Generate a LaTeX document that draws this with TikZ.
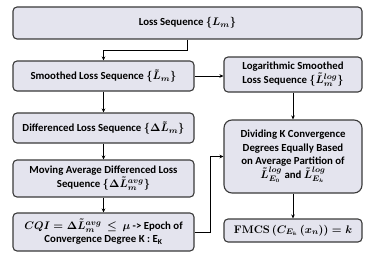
\documentclass[tikz,border=0pt]{standalone}
\usepackage[no-math]{fontspec}
\setmainfont{Carlito}
\usepackage{amsmath}
\usetikzlibrary{arrows.meta}
\definecolor{boxfill}{HTML}{E4E4EE}
\definecolor{boxline}{HTML}{3A3A3A}
\tikzset{
  stepbox/.style={draw=boxline, line width=1.1pt, fill=boxfill, rounded corners=4pt,
    align=center, inner sep=1pt, font=\fontsize{10.8}{13.5}\selectfont\bfseries\boldmath},
  arr/.style={draw=black, line width=0.9pt, -{Stealth[length=4pt,width=3.6pt]}}
}
\begin{document}
\begin{tikzpicture}[x=1pt,y=-1pt]
\useasboundingbox (0,0) rectangle (374,262);
\node[stepbox, minimum width=349pt, minimum height=32pt] (top) at (187.5,23) {Loss Sequence $\{L_m\}$};
\node[stepbox, minimum width=181pt, minimum height=30pt] (smooth) at (103.5,76) {Smoothed Loss Sequence $\{\tilde{L}_m\}$};
\node[stepbox, minimum width=138pt, minimum height=35pt] (log) at (293,74.5) {Logarithmic Smoothed\\Loss Sequence $\{\tilde{L}_m^{log}\}$};
\node[stepbox, minimum width=181pt, minimum height=30pt] (diff) at (103.5,128) {Differenced Loss Sequence $\{\Delta\tilde{L}_m\}$};
\node[stepbox, minimum width=181pt, minimum height=37pt] (mavg) at (103.5,178.5) {Moving Average Differenced Loss\\Sequence $\{\Delta\tilde{L}_m^{avg}\}$};
\node[stepbox, minimum width=181pt, minimum height=38pt] (cqi) at (103.5,232) {$CQI=\Delta\tilde{L}_m^{avg}\,\le\,\mu$ -> Epoch of\\Convergence Degree K : E\textsubscript{K}};
\node[stepbox, rounded corners=8pt, minimum width=138pt, minimum height=73pt] (div) at (293,156.5) {Dividing K Convergence\\Degrees Equally Based\\on Average Partition of\\$\tilde{L}_{E_0}^{log}$ and $\tilde{L}_{E_k}^{log}$};
\node[stepbox, minimum width=138pt, minimum height=23pt] (fmcs) at (293,230.5) {$\mathbf{FMCS}\left(C_{E_k}\,(x_n)\right)=k$};
\draw[arr] (top.south) -- ++(0,11) -| (smooth.north);
\draw[arr] (smooth.east) -- (smooth.east -| log.west);
\draw[arr] (smooth) -- (diff);
\draw[arr] (diff) -- (mavg);
\draw[arr] (mavg) -- (cqi);
\draw[arr] (log) -- (div);
\draw[arr] (div) -- (fmcs);
\draw[arr] (cqi.east) -- ++(16,0) |- (div.west);
\end{tikzpicture}
\end{document}
